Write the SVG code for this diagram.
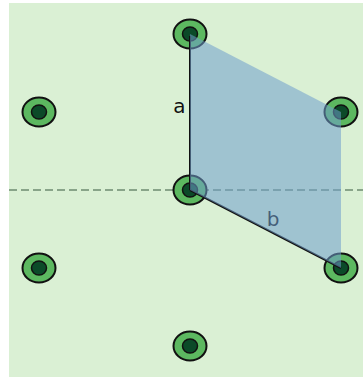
<svg xmlns="http://www.w3.org/2000/svg" width="363" height="377" viewBox="0 0 363 377">
<style>
.outer{fill:#5cb860;stroke:#111;stroke-width:2}
.inner{fill:#0b4a28;stroke:#111;stroke-width:1.5}
.vec{stroke:#111;stroke-width:2;fill:none}
.lbl{font-family:"DejaVu Sans",sans-serif;font-size:20px;fill:#111;text-anchor:middle}
</style>
<defs>
<g id="atom"><ellipse class="outer" rx="16.5" ry="14.5"/><ellipse class="inner" rx="7.5" ry="7"/></g>
</defs>
<rect x="0" y="0" width="363" height="377" fill="#ffffff"/>
<rect x="9" y="3" width="354" height="374" fill="#daf0d4"/>
<g id="connectors">
<line x1="9" y1="190" x2="363" y2="190" stroke="#6e8a70" stroke-width="1.6" stroke-dasharray="8,4"/>
</g>
<g id="atom1"><use href="#atom" x="190" y="34"/></g>
<g id="atom2"><use href="#atom" x="39" y="112"/></g>
<g id="atom3"><use href="#atom" x="341" y="112"/></g>
<g id="atom4"><use href="#atom" x="190" y="190"/></g>
<g id="atom5"><use href="#atom" x="39" y="268"/></g>
<g id="atom6"><use href="#atom" x="341" y="268"/></g>
<g id="atom7"><use href="#atom" x="190" y="346"/></g>
<g id="vectors">
<line class="vec" x1="190" y1="190" x2="190" y2="36"/>
<line class="vec" x1="190" y1="190" x2="341" y2="268"/>
<text class="lbl" x="179.5" y="113">a</text>
<text class="lbl" x="273" y="226">b</text>
</g>
<g id="cell">
<polygon points="190,34 341,112 341,268 190,190" fill="#6f9fcc" fill-opacity="0.55"/>
</g>
</svg>
